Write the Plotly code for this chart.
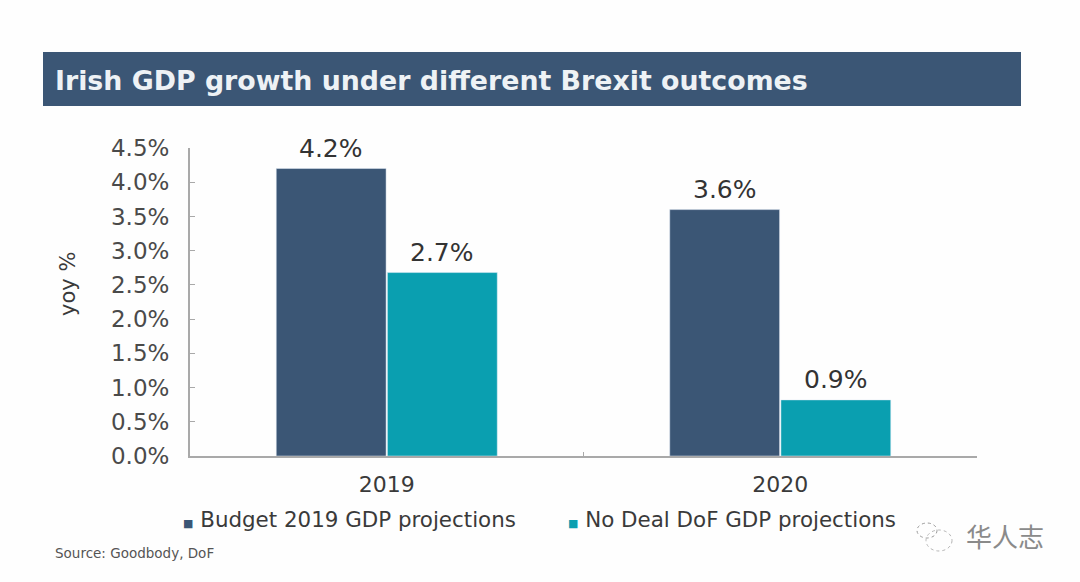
import plotly.graph_objects as go

years = ["2019", "2020"]
budget = [4.2, 3.6]
no_deal = [2.68, 0.82]
budget_labels = ["4.2%", "3.6%"]
no_deal_labels = ["2.7%", "0.9%"]
tick_vals = [0, 0.5, 1, 1.5, 2, 2.5, 3, 3.5, 4, 4.5]
tick_text = ["0.0%", "0.5%", "1.0%", "1.5%", "2.0%", "2.5%", "3.0%", "3.5%", "4.0%", "4.5%"]
title_text = "Irish GDP growth under different Brexit outcomes"
budget_name = "Budget 2019 GDP projections"
no_deal_name = "No Deal DoF GDP projections"

W, H = 1080, 582
NAVY, TEAL, INK = "#3b5675", "#0a9fb0", "#3a3a3a"
FONT = "DejaVu Sans"
L, R, T, B = 190, 103, 148, 126
px = lambda x: (x - L) / (W - L - R)
py = lambda y: (H - B - y) / (H - T - B)

fig = go.Figure()
fig.add_bar(name=budget_name, x=years, y=budget, marker_color=NAVY)
fig.add_bar(name=no_deal_name, x=years, y=no_deal, marker_color=TEAL)

value_notes = []
for values, labels, shift in ((budget, budget_labels, -55.5), (no_deal, no_deal_labels, 55.5)):
    for index, (value, label) in enumerate(zip(values, labels)):
        value_notes.append(dict(x=index, y=value, text=label, xshift=shift, yshift=4, yanchor="bottom",
                                showarrow=False, font=dict(size=25, color="#333333")))

fig.update_layout(
    width=W, height=H, autosize=False, showlegend=False, barmode="group",
    bargap=0.435, bargroupgap=0.012, paper_bgcolor="#fefefe", plot_bgcolor="#fefefe",
    margin=dict(l=L, r=R, t=T, b=B), font=dict(family=FONT, color=INK),
    xaxis=dict(type="category", range=[-0.5, 1.5], showline=True, linecolor="#a9a9a9", linewidth=2,
               ticks="inside", ticklen=4, tickcolor="#a9a9a9", tickson="boundaries",
               tickfont=dict(size=22, color=INK), showgrid=False, ticklabelstandoff=8),
    yaxis=dict(range=[0, 4.5], tickvals=tick_vals, ticktext=tick_text, showline=True,
               linecolor="#a9a9a9", linewidth=2, ticks="inside", ticklen=5, tickcolor="#a9a9a9",
               showgrid=False, zeroline=False, tickfont=dict(size=23, color="#4a4a4a"),
               ticklabelstandoff=14),
    shapes=[
        dict(type="rect", xref="paper", yref="paper", x0=px(43), x1=px(1021), y0=py(106), y1=py(52),
             fillcolor=NAVY, line_width=0, layer="below"),
        dict(type="circle", xref="paper", yref="paper", x0=px(917), x1=px(937), y0=py(538), y1=py(523),
             line=dict(color="#9a9a9a", width=1, dash="dot")),
        dict(type="circle", xref="paper", yref="paper", x0=px(926), x1=px(952), y0=py(551), y1=py(530),
             line=dict(color="#b5b5b5", width=1, dash="dot")),
    ],
    annotations=value_notes + [
        dict(text=f"<b>{title_text}</b>", xref="paper", yref="paper", x=px(53), y=py(80), xanchor="left",
             yanchor="middle", showarrow=False, font=dict(size=26.8, color="#eef2f5")),
        dict(text="yoy %", xref="paper", yref="paper", x=px(68), y=py(284), textangle=-90, xanchor="center",
             yanchor="middle", showarrow=False, font=dict(size=21, color=INK)),
        dict(text=f"<span style='color:{NAVY};font-size:11px'>■</span> {budget_name}", xref="paper", yref="paper",
             x=px(181), y=py(519), xanchor="left", yanchor="middle", showarrow=False,
             font=dict(size=21.4, color=INK)),
        dict(text=f"<span style='color:{TEAL};font-size:11px'>■</span> {no_deal_name}", xref="paper", yref="paper",
             x=px(566), y=py(519), xanchor="left", yanchor="middle", showarrow=False,
             font=dict(size=21.4, color=INK)),
        dict(text="Source: Goodbody, DoF", xref="paper", yref="paper", x=px(53), y=py(553), xanchor="left",
             yanchor="middle", showarrow=False, font=dict(size=13.5, color="#555555")),
        dict(text="华人志", xref="paper", yref="paper", x=px(1046), y=py(535), xanchor="right",
             yanchor="middle", showarrow=False, font=dict(family="Noto Sans CJK SC", size=26, color="#8a8a8a")),
    ],
)
fig.write_html("out.html", config={"displayModeBar": False},
               post_script="document.body.style.margin='0';")
